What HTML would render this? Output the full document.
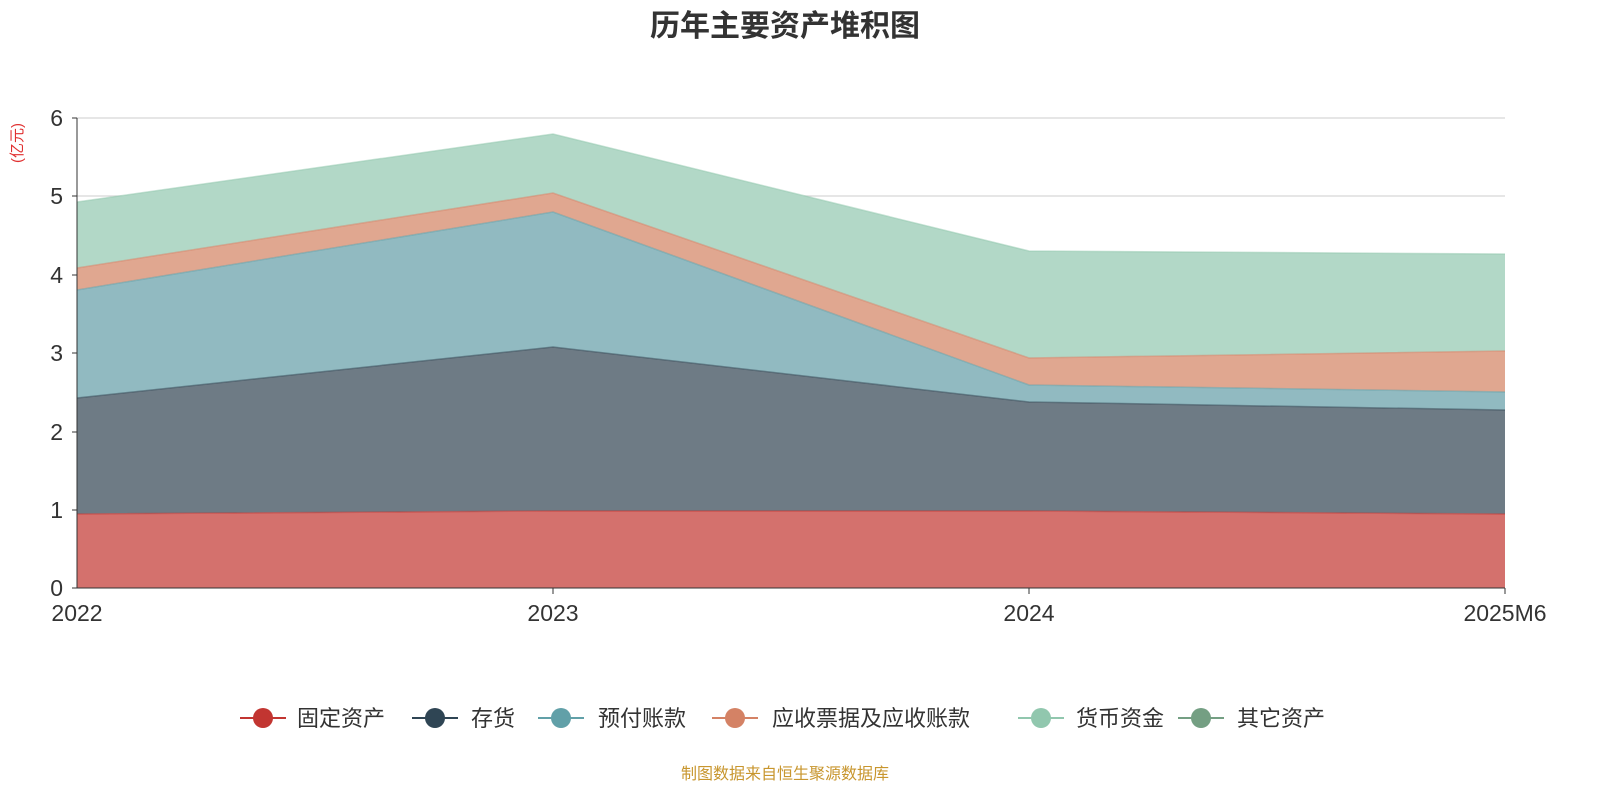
<!DOCTYPE html>
<html><head><meta charset="utf-8"><style>
body{margin:0;background:#fff;font-family:"Liberation Sans","Noto Sans CJK SC",sans-serif;}
</style></head><body>
<svg width="1600" height="800" xmlns="http://www.w3.org/2000/svg" font-family="Liberation Sans, Noto Sans CJK SC, sans-serif">
<rect width="1600" height="800" fill="#fff"/>
<text x="785" y="36" text-anchor="middle" font-size="30" font-weight="bold" fill="#333">历年主要资产堆积图</text>
<text x="22" y="143" font-size="15" fill="#e03030" text-anchor="middle" transform="rotate(-90 22 143)">(亿元)</text>
<g stroke="#ccc" stroke-width="1">
<line x1="77" y1="118" x2="1505" y2="118"/><line x1="77" y1="196" x2="1505" y2="196"/>
<line x1="77" y1="275" x2="1505" y2="275"/><line x1="77" y1="353" x2="1505" y2="353"/>
<line x1="77" y1="432" x2="1505" y2="432"/><line x1="77" y1="510" x2="1505" y2="510"/>
</g>
<polygon points="77,202 553,134 1029,251 1505,254 1505,351 1029,358 553,193 77,268" fill="#b2d8c7"/>
<polygon points="77,268 553,193 1029,358 1505,351 1505,392 1029,385 553,212 77,290" fill="#e0a790"/>
<polygon points="77,290 553,212 1029,385 1505,392 1505,410 1029,402 553,347 77,398" fill="#91bac1"/>
<polygon points="77,398 553,347 1029,402 1505,410 1505,514 1029,511 553,511 77,514" fill="#6e7b85"/>
<polygon points="77,514 553,511 1029,511 1505,514 1505,588 77,588" fill="#d4716d"/>
<g fill="none" stroke-width="1.5" stroke-opacity="0.5">
<polyline points="77,202 553,134 1029,251 1505,254" stroke="#91c7ae"/>
<polyline points="77,268 553,193 1029,358 1505,351" stroke="#d48265"/>
<polyline points="77,290 553,212 1029,385 1505,392" stroke="#61a0a8"/>
<polyline points="77,398 553,347 1029,402 1505,410" stroke="#2f4554"/>
<polyline points="77,514 553,511 1029,511 1505,514" stroke="#c23531"/>
</g>
<line x1="77" y1="118" x2="77" y2="588" stroke="#333"/>
<line x1="77" y1="588" x2="1505" y2="588" stroke="#333"/>
<g stroke="#333"><line x1="72" y1="118" x2="77" y2="118"/><line x1="72" y1="196" x2="77" y2="196"/><line x1="72" y1="275" x2="77" y2="275"/><line x1="72" y1="353" x2="77" y2="353"/><line x1="72" y1="432" x2="77" y2="432"/><line x1="72" y1="510" x2="77" y2="510"/><line x1="72" y1="588" x2="77" y2="588"/>
<line x1="553" y1="588" x2="553" y2="594"/><line x1="1029" y1="588" x2="1029" y2="594"/><line x1="1505" y1="588" x2="1505" y2="594"/></g>
<g font-size="23" fill="#333" text-anchor="end">
<text x="63" y="126">6</text><text x="63" y="204">5</text><text x="63" y="283">4</text><text x="63" y="361">3</text><text x="63" y="440">2</text><text x="63" y="518">1</text><text x="63" y="596">0</text></g>
<g font-size="23" fill="#333" text-anchor="middle">
<text x="77" y="621">2022</text><text x="553" y="621">2023</text><text x="1029" y="621">2024</text><text x="1505" y="621">2025M6</text></g>
<g font-size="22" fill="#333">
<line x1="240" y1="718" x2="286" y2="718" stroke="#c23531" stroke-width="2"/><circle cx="263" cy="718" r="10" fill="#c23531"/><text x="297" y="726">固定资产</text>
<line x1="412" y1="718" x2="458" y2="718" stroke="#2f4554" stroke-width="2"/><circle cx="435" cy="718" r="10" fill="#2f4554"/><text x="471" y="726">存货</text>
<line x1="538" y1="718" x2="584" y2="718" stroke="#61a0a8" stroke-width="2"/><circle cx="561" cy="718" r="10" fill="#61a0a8"/><text x="598" y="726">预付账款</text>
<line x1="712" y1="718" x2="758" y2="718" stroke="#d48265" stroke-width="2"/><circle cx="735" cy="718" r="10" fill="#d48265"/><text x="772" y="726">应收票据及应收账款</text>
<line x1="1018" y1="718" x2="1064" y2="718" stroke="#91c7ae" stroke-width="2"/><circle cx="1041" cy="718" r="10" fill="#91c7ae"/><text x="1076" y="726">货币资金</text>
<line x1="1178" y1="718" x2="1224" y2="718" stroke="#749f83" stroke-width="2"/><circle cx="1201" cy="718" r="10" fill="#749f83"/><text x="1237" y="726">其它资产</text>
</g>
<text x="785" y="779" text-anchor="middle" font-size="16" fill="#c8962e">制图数据来自恒生聚源数据库</text>
</svg>
</body></html>
